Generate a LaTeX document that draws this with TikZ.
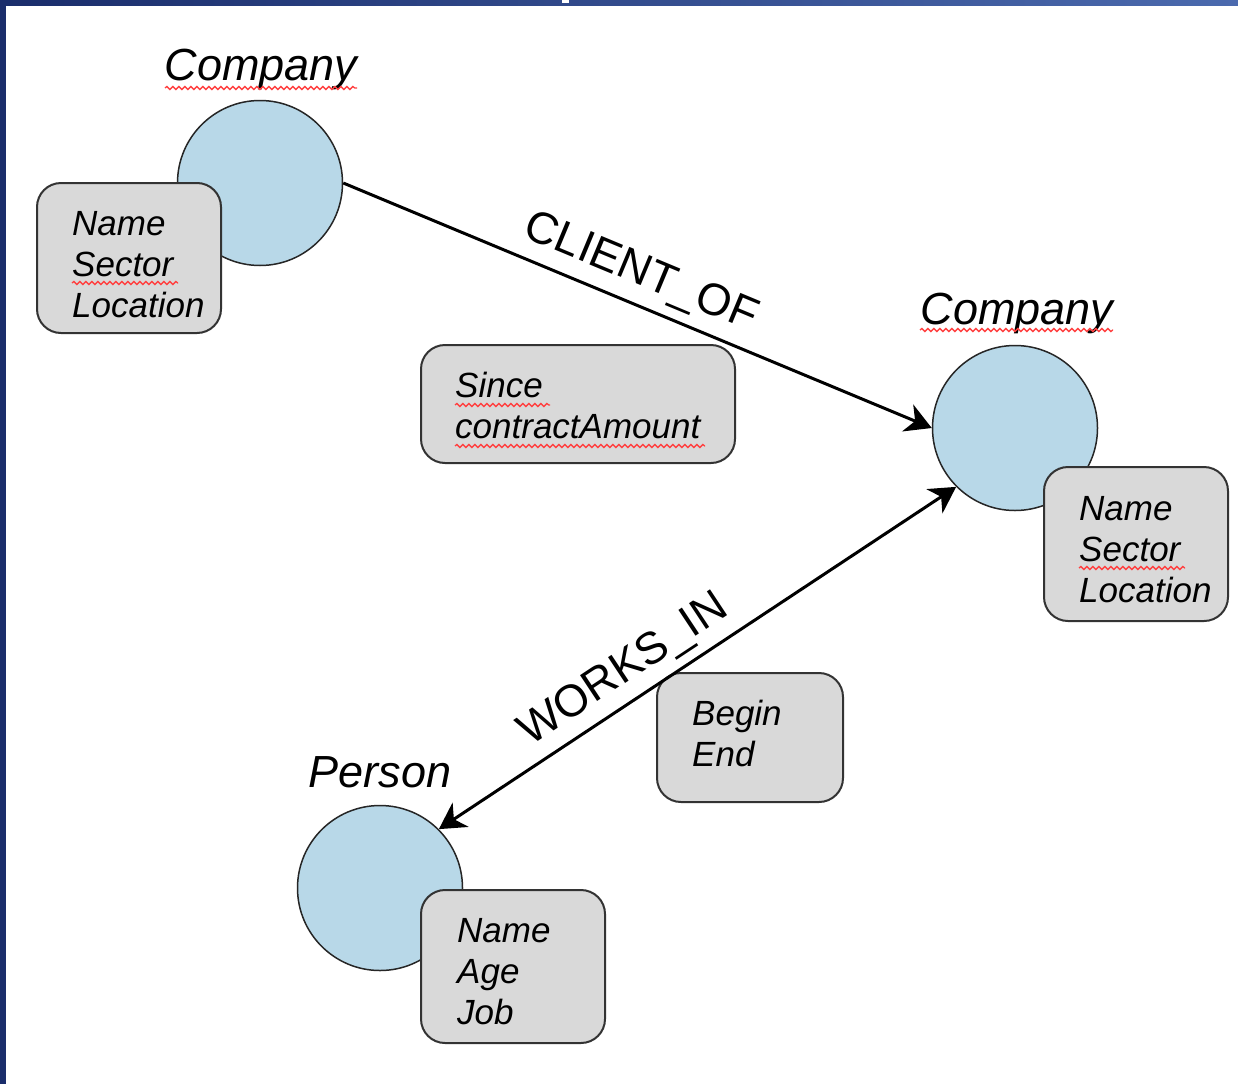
\documentclass[tikz,border=0pt]{standalone}
\usepackage{fontspec}
\setmainfont{Liberation Sans}
\usetikzlibrary{arrows.meta,decorations.pathmorphing}

\definecolor{nodeblue}{HTML}{B8D8E8}
\definecolor{propgray}{HTML}{D9D9D9}
\definecolor{navydark}{HTML}{1A2D6B}
\definecolor{navylight}{HTML}{4B6AAE}

\begin{document}
\begin{tikzpicture}[x=1pt,y=-1pt,
  >={Stealth[length=26pt,width=29pt,inset=8pt]},
  entity/.style={circle, draw=black!85, line width=1.5pt, fill=nodeblue,
    minimum size=165pt, inner sep=0pt},
  propbox/.style={draw=black!80, line width=2pt, fill=propgray,
    rounded corners=24pt, inner sep=0pt},
  proptext/.style={font=\fontsize{35}{41}\selectfont\itshape, align=left,
    inner sep=0pt, anchor=north west},
  entlabel/.style={font=\fontsize{45}{50}\selectfont\itshape, inner sep=0pt,
    anchor=base},
  rellabel/.style={font=\fontsize{45}{50}\selectfont, inner sep=0pt,
    text depth=0pt, sloped},
  rel/.style={line width=3pt},
  spell/.style={draw=red!75!white, line width=1.3pt, decorate,
    decoration={snake, amplitude=1.5pt, segment length=6pt}}
]
\useasboundingbox (0,0) rectangle (1238,1084);
\fill[white] (0,0) rectangle (1238,1084);

% slide frame
\shade[left color=navydark, right color=navylight] (0,0) rectangle (1238,5);
\fill[navydark] (0,0) rectangle (6,1084);
\fill[white] (562,0) rectangle (569,3);

% entities
\node[entity] (c1) at (260,183) {};
\node[entity] (c2) at (1015,428) {};
\node[entity] (c3) at (380,888) {};

\node[entlabel] (co1) at (261,80) {Company};
\node[entlabel] (co2) at (1017,324) {Company};
\node[entlabel] (pe) at (380,787) {Person};

% property boxes
\node[propbox, minimum width=184pt, minimum height=150pt] (b1) at (129,258) {};
\node[proptext] (t1) at (72,211) {Name\\Sector\\Location};

\node[propbox, minimum width=184pt, minimum height=154pt] (b2) at (1136,544) {};
\node[proptext] (t2) at (1079,496) {Name\\Sector\\Location};

\node[propbox, minimum width=184pt, minimum height=153pt] (b3) at (513,966.5) {};
\node[proptext] (t3) at (457,918) {Name\\Age\\Job};

\node[propbox, minimum width=314pt, minimum height=118pt] (bs) at (578,404) {};
\node[proptext] (ts) at (455,372) {Since\\contractAmount};

\node[propbox, minimum width=186pt, minimum height=129pt] (bw) at (750,737.5) {};
\node[proptext] (tw) at (692,700) {Begin\\End};

% relationships
\draw[rel, ->] (c1.east) --
  node[rellabel, above=18pt, pos=0.485] (lc) {CLIENT\_OF} (c2.west);
\draw[rel, <->] (c3.north east) --
  node[rellabel, above=17pt, pos=0.39] (lw) {WORKS\_IN} (c2.south west);

% spell-check marks
\draw[spell] (165,88) -- (357,88);
\draw[spell] (920,330) -- (1113,330);
\draw[spell] (72,283) -- (178,283);
\draw[spell] (1079,568) -- (1185,568);
\draw[spell] (455,405) -- (550,405);
\draw[spell] (455,446) -- (705,446);
\end{tikzpicture}
\end{document}
